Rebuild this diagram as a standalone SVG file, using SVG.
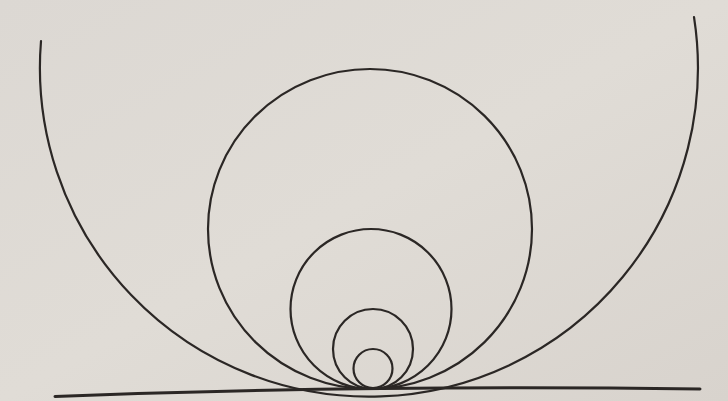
<svg xmlns="http://www.w3.org/2000/svg" width="728" height="401" viewBox="0 0 728 401">
  <defs>
    <style>
      .ln { fill: none; stroke: #2b2725; stroke-width: 2.2; stroke-linecap: round; }
      .base { fill: none; stroke: #2b2725; stroke-width: 3; stroke-linecap: round; }
    </style>
    <linearGradient id="paper" x1="0" y1="0" x2="1" y2="1">
      <stop offset="0" stop-color="#dcd8d3"/>
      <stop offset="0.5" stop-color="#e0dcd6"/>
      <stop offset="1" stop-color="#d8d3cd"/>
    </linearGradient>
  </defs>
  <rect width="728" height="401" fill="url(#paper)"/>
  <g id="large-arc">
    <path class="ln" d="M41,41 A329,329 0 1 0 694,17"/>
  </g>
  <g id="circle-2">
    <ellipse class="ln" cx="370" cy="229" rx="162" ry="160"/>
  </g>
  <g id="circle-3">
    <ellipse class="ln" cx="371" cy="309" rx="80.5" ry="80"/>
  </g>
  <g id="circle-4">
    <circle class="ln" cx="373" cy="349" r="40"/>
  </g>
  <g id="circle-5">
    <circle class="ln" cx="373" cy="368.5" r="19.5"/>
  </g>
  <g id="baseline">
    <path class="base" d="M55,396.5 Q368.5,384.5 700,389"/>
  </g>
</svg>
